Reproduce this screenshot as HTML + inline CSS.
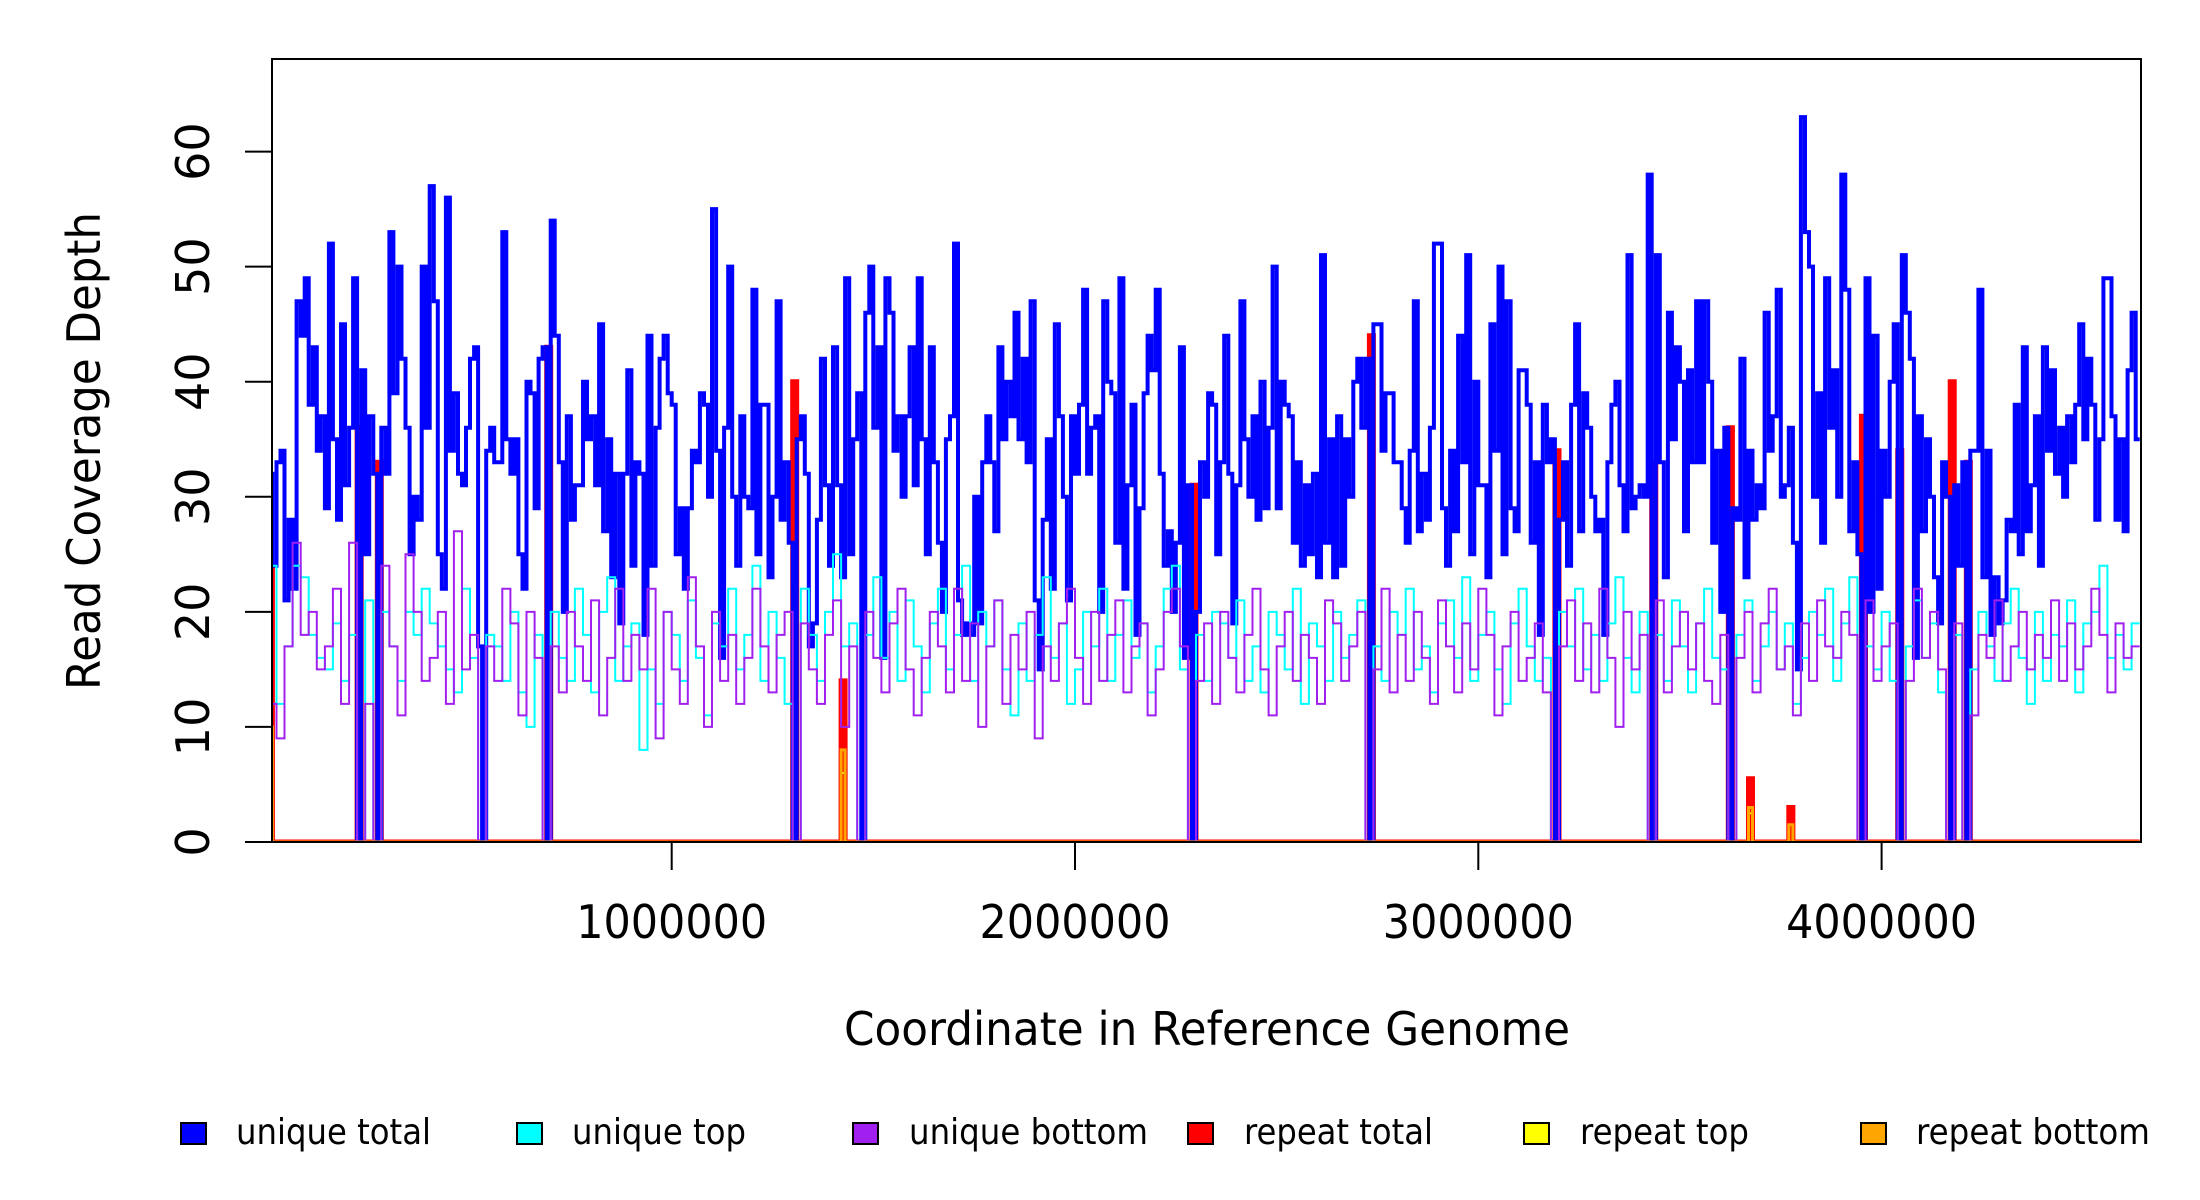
<!DOCTYPE html>
<html><head><meta charset="utf-8"><style>
html,body{margin:0;padding:0;background:#fff;}
svg{display:block;font-family:"DejaVu Sans","Liberation Sans",sans-serif;}
</style></head><body>
<svg id="chart" width="2200" height="1200" viewBox="0 0 2200 1200" xmlns="http://www.w3.org/2000/svg">
<defs><clipPath id="plotclip"><rect x="272" y="59" width="1869" height="784"/></clipPath></defs>
<g id="series" clip-path="url(#plotclip)"></g>
<rect x="272" y="59" width="1869" height="783" fill="none" stroke="#000" stroke-width="2"/>
<g id="yaxis"></g>
<g id="xaxis"></g>
<text transform="translate(100,451) rotate(-90)" text-anchor="middle" font-size="46" textLength="478" lengthAdjust="spacingAndGlyphs">Read Coverage Depth</text>
<text x="1207" y="1045" text-anchor="middle" font-size="46" textLength="726" lengthAdjust="spacingAndGlyphs">Coordinate in Reference Genome</text>
<g id="legend">
 <g><rect x="181" y="1123" width="25" height="21" fill="#0000ff" stroke="#000" stroke-width="2"/><text x="236" y="1144" font-size="36" textLength="195" lengthAdjust="spacingAndGlyphs">unique total</text></g>
 <g><rect x="517" y="1123" width="25" height="21" fill="#00ffff" stroke="#000" stroke-width="2"/><text x="572" y="1144" font-size="36" textLength="174" lengthAdjust="spacingAndGlyphs">unique top</text></g>
 <g><rect x="853" y="1123" width="25" height="21" fill="#a020f0" stroke="#000" stroke-width="2"/><text x="909" y="1144" font-size="36" textLength="239" lengthAdjust="spacingAndGlyphs">unique bottom</text></g>
 <g><rect x="1188" y="1123" width="25" height="21" fill="#ff0000" stroke="#000" stroke-width="2"/><text x="1244" y="1144" font-size="36" textLength="189" lengthAdjust="spacingAndGlyphs">repeat total</text></g>
 <g><rect x="1524" y="1123" width="25" height="21" fill="#ffff00" stroke="#000" stroke-width="2"/><text x="1580" y="1144" font-size="36" textLength="169" lengthAdjust="spacingAndGlyphs">repeat top</text></g>
 <g><rect x="1861" y="1123" width="25" height="21" fill="#ffa500" stroke="#000" stroke-width="2"/><text x="1916" y="1144" font-size="36" textLength="234" lengthAdjust="spacingAndGlyphs">repeat bottom</text></g>
</g>
</svg>
<script>
const uniqueTotal = [32,24,33,34,21,28,22,47,44,49,38,43,34,37,29,52,35,28,45,31,
36,49,0,41,25,37,32,0,36,32,53,39,50,42,36,25,30,28,50,36,
57,47,25,22,56,34,39,32,31,36,42,43,17,0,34,36,33,33,53,35,
32,35,25,22,40,39,29,42,43,0,54,44,33,20,37,28,31,31,40,35,
37,31,45,27,35,23,32,19,32,41,24,33,32,18,44,24,36,42,44,39,
38,25,29,22,29,34,33,39,38,30,55,34,16,36,50,30,24,37,30,29,
48,25,38,38,23,30,47,28,33,26,0,35,37,32,17,19,28,42,31,24,
43,31,23,49,25,35,39,0,46,50,36,43,16,49,46,34,37,30,37,43,
31,49,35,25,43,33,26,20,35,37,52,21,18,19,18,30,19,33,37,33,
27,43,35,40,37,46,35,42,33,47,21,15,28,35,22,45,37,30,21,37,
32,38,48,32,36,37,20,47,40,39,26,49,22,31,38,18,29,39,44,41,
48,32,24,27,20,26,43,16,31,0,20,33,30,39,38,25,33,44,32,19,
31,47,35,30,37,28,40,29,36,50,29,40,38,37,26,33,24,31,25,32,
23,51,26,35,23,37,24,35,30,40,42,36,42,0,45,45,34,39,39,33,
33,29,26,34,47,27,32,28,36,52,52,29,24,34,27,44,33,51,25,40,
31,31,23,45,34,50,25,47,29,27,41,41,38,26,33,18,38,33,35,0,
28,33,24,38,45,27,39,36,30,27,28,18,33,38,40,31,27,51,29,30,
31,30,58,0,51,33,23,46,35,43,40,27,41,33,47,33,47,40,26,34,
20,36,0,29,28,42,23,34,28,31,29,46,34,37,48,30,31,36,26,15,
63,53,50,30,39,26,49,36,41,30,58,48,27,33,25,0,49,20,44,22,
34,30,40,45,0,51,46,42,16,37,27,35,30,23,19,33,30,0,31,24,
33,0,34,34,48,23,34,18,23,19,21,28,27,38,25,43,27,31,37,24,
43,34,41,32,36,30,37,33,38,45,35,42,38,28,35,49,49,37,28,35,
27,41,46,35];
const uniqueTop = [24,12,17,24,23,18,16,15,19,14,18,0,21,0,20,17,14,20,18,22,
19,17,15,13,22,16,0,18,17,14,20,13,10,18,0,20,16,14,22,18,
13,20,23,14,17,19,8,15,12,20,18,14,21,16,11,19,17,22,15,18,
24,14,20,16,12,0,22,18,14,20,25,17,19,0,18,23,16,20,14,21,
17,13,19,22,15,18,24,14,20,17,21,15,11,19,14,18,23,16,19,12,
15,20,17,22,14,18,21,16,19,13,17,22,24,15,0,18,14,20,19,16,
21,14,17,13,20,18,15,22,12,19,17,14,20,16,18,21,0,17,14,20,
18,22,15,17,13,19,21,16,23,14,18,20,15,12,19,22,17,14,16,0,
20,17,22,15,18,14,19,23,16,13,20,0,18,14,21,17,13,19,22,16,
15,0,18,21,14,17,20,15,19,12,16,20,18,22,14,19,23,0,17,15,
20,14,0,17,21,16,19,13,0,18,0,15,20,17,14,19,22,16,12,20,
14,18,17,21,13,19,20,24,16,18,15,19];
const uniqueBottom = [12,9,17,26,18,20,15,17,22,12,26,0,12,0,24,17,11,25,20,14,
16,20,12,27,15,18,0,17,14,22,19,11,20,16,0,17,13,20,17,14,
21,11,16,22,14,18,15,22,9,20,15,12,23,17,10,20,14,18,12,16,
22,17,13,18,20,0,19,15,12,18,21,10,17,0,20,16,13,19,22,15,
11,16,20,17,13,22,14,19,10,17,21,12,18,15,20,9,17,14,19,22,
16,12,20,14,18,21,13,17,19,11,15,20,22,17,0,14,19,12,20,16,
13,18,22,15,11,17,20,14,18,16,12,21,19,14,17,20,0,15,22,13,
18,14,20,16,12,21,17,13,19,15,22,18,11,17,20,14,16,19,13,0,
17,21,14,19,13,22,16,10,20,15,18,0,21,13,17,20,15,19,14,12,
18,0,16,20,13,19,22,15,17,11,19,14,21,17,16,20,18,0,21,14,
17,19,0,14,22,16,20,15,0,19,0,11,18,16,21,14,17,20,15,18,
16,21,14,19,15,17,22,18,13,19,16,17];
const repeatBins   = [0,22,27,69,130,142,229,273,319,343,362,367,377,395,404,417,421];
const repeatTotal  = [24,36,33,43,40,14,31,44,34,33,36,5.5,3,37,34,40,33];
const repeatTop    = [8,0,0,0,0,6,0,0,0,0,0,2.5,1.5,0,0,0,0];
const repeatBottom = [10,0,0,0,0,8,0,0,0,0,0,3,1.5,0,0,0,0];
const yTicks = [0,10,20,30,40,50,60];
const xTicks = [1000000,2000000,3000000,4000000];
const xTickLabels = ["1000000","2000000","3000000","4000000"];
const binSize = 10000, strandBinSize = 20000;

const NS = "http://www.w3.org/2000/svg";
function xs(v){ return 268.4 + v*403.3e-6; }
function ys(v){ return 842 - v*11.507; }
function stepPath(vals, size){
  let d = "M" + xs(0).toFixed(1) + "," + ys(vals[0]).toFixed(1);
  for (let i=0;i<vals.length;i++){
    if (i>0) d += "V" + ys(vals[i]).toFixed(1);
    d += "H" + xs((i+1)*size).toFixed(1);
  }
  return d;
}
function expand(vals){
  const n = uniqueTotal.length, arr = new Array(n).fill(0);
  repeatBins.forEach((b,k)=>{ arr[b] = vals[k]; });
  return arr;
}
const g = document.getElementById("series");
function addLine(vals, size, color, w, name){
  const p = document.createElementNS(NS,"path");
  p.setAttribute("d", stepPath(vals,size));
  p.setAttribute("fill","none");
  p.setAttribute("stroke",color);
  p.setAttribute("stroke-width",w);
  p.setAttribute("stroke-linejoin","miter");
  
  
  g.appendChild(p);
}
addLine(expand(repeatTotal), binSize, "#ff0000", 5, "repeat-total-line");
addLine(uniqueTotal, binSize, "#0000ff", 4, "unique-total-line");
addLine(uniqueTop, strandBinSize, "#00ffff", 2, "unique-top-line");
addLine(uniqueBottom, strandBinSize, "#a020f0", 2, "unique-bottom-line");
addLine(expand(repeatTop), binSize, "#ffff00", 2, "repeat-top-line");
addLine(expand(repeatBottom), binSize, "#ffa500", 3, "repeat-bottom-line");

const ya = document.getElementById("yaxis");
yTicks.forEach(t=>{
  const y = ys(t);
  const l = document.createElementNS(NS,"line");
  l.setAttribute("x1",245); l.setAttribute("x2",272);
  l.setAttribute("y1",y); l.setAttribute("y2",y);
  l.setAttribute("stroke","#000"); l.setAttribute("stroke-width",2);
  
  
  ya.appendChild(l);
  const tx = document.createElementNS(NS,"text");
  tx.setAttribute("transform","translate(209,"+y+") rotate(-90)");
  tx.setAttribute("text-anchor","middle");
  tx.setAttribute("font-size","46");
  tx.textContent = String(t);
  
  
  ya.appendChild(tx);
});
const xa = document.getElementById("xaxis");
xTicks.forEach((t,i)=>{
  const x = xs(t);
  const l = document.createElementNS(NS,"line");
  l.setAttribute("x1",x); l.setAttribute("x2",x);
  l.setAttribute("y1",842); l.setAttribute("y2",870);
  l.setAttribute("stroke","#000"); l.setAttribute("stroke-width",2);
  
  
  xa.appendChild(l);
  const tx = document.createElementNS(NS,"text");
  tx.setAttribute("x",x); tx.setAttribute("y",938);
  tx.setAttribute("text-anchor","middle");
  tx.setAttribute("font-size","46");
  tx.setAttribute("textLength","191");
  tx.setAttribute("lengthAdjust","spacingAndGlyphs");
  tx.textContent = xTickLabels[i];
  
  
  xa.appendChild(tx);
});
</script>
</body></html>
